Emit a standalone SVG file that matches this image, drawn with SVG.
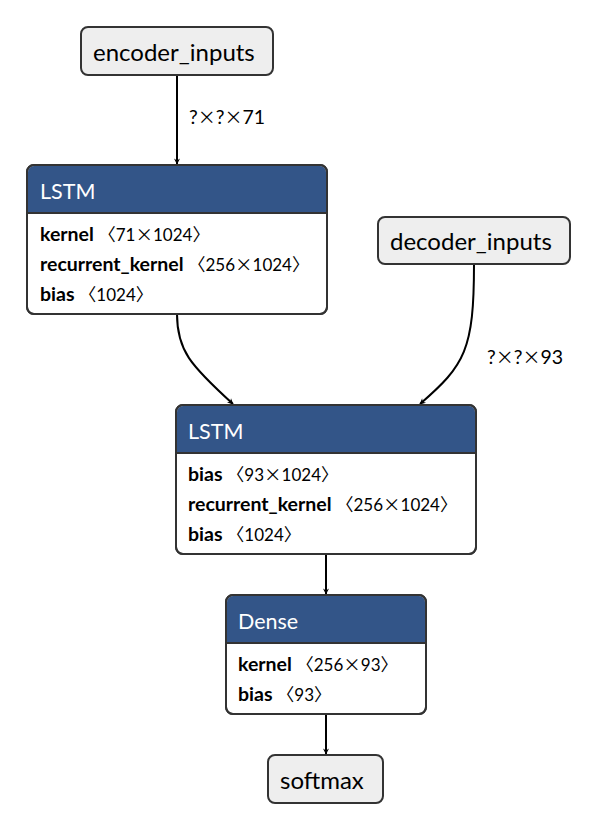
<svg xmlns="http://www.w3.org/2000/svg" width="598" height="832" viewBox="0 0 598 832">
<style>
text{font-family:"Lato","Noto Sans","Noto Sans CJK SC",sans-serif;fill:#000}
.io{fill:#eeeeee;stroke:#333;stroke-width:2}
.box{fill:#fff;stroke:#333;stroke-width:2}
.hdr{fill:#335588}
.name{font-size:24px}
.title{font-size:21.5px;fill:#fff}
.attr{font-size:17px}
.b{font-weight:bold;font-size:19.5px}
.lbl{font-size:19.5px}
.cjk{font-family:"Noto Sans CJK SC",sans-serif;font-weight:normal;font-size:17.5px}
.lbl .cjk{font-size:18px}
.edge{fill:none;stroke:#000;stroke-width:2;marker-end:url(#arr)}
</style>
<defs>
<marker id="arr" viewBox="0 0 10 10" refX="9" refY="5" markerWidth="6" markerHeight="6" markerUnits="userSpaceOnUse" orient="auto" overflow="visible">
<path d="M0,0 L10,5 L0,10 L3,5 Z" fill="#000"/>
</marker>
</defs>
<g id="connectors">
<path class="edge" d="M177,75 L177,164"/>
<path class="edge" d="M177,314 C177,350 190,365 233,404"/>
<path class="edge" d="M474,264 C474,350 465,365 420,404"/>
<path class="edge" d="M326,554 L326,594"/>
<path class="edge" d="M326,714 L326,754"/>
<text class="lbl" x="189" y="124">?<tspan class="cjk">×</tspan>?<tspan class="cjk">×</tspan>71</text>
<text class="lbl" x="487" y="364">?<tspan class="cjk">×</tspan>?<tspan class="cjk">×</tspan>93</text>
</g>
<g id="encoder_inputs">
<rect class="io" x="81" y="27" width="192" height="48" rx="7"/>
<text class="name" x="93" y="61">encoder_inputs</text>
</g>
<g id="decoder_inputs">
<rect class="io" x="378" y="217" width="192" height="47" rx="7"/>
<text class="name" x="390" y="250">decoder_inputs</text>
</g>
<g id="lstm1">
<rect class="box" x="27" y="165" width="300" height="149" rx="7"/>
<path class="hdr" d="M34,166 H320 A6,6 0 0 1 326,172 V213 H28 V172 A6,6 0 0 1 34,166 Z"/>
<line x1="27" y1="213" x2="327" y2="213" stroke="#333" stroke-width="2"/>
<rect x="27" y="165" width="300" height="149" rx="7" fill="none" stroke="#333" stroke-width="2"/>
<text class="title" x="40" y="199">LSTM</text>
<text class="attr" x="40" y="241"><tspan class="b">kernel</tspan> <tspan class="cjk">〈</tspan>71<tspan class="cjk">×</tspan>1024<tspan class="cjk">〉</tspan></text>
<text class="attr" x="40" y="271"><tspan class="b">recurrent_kernel</tspan> <tspan class="cjk">〈</tspan>256<tspan class="cjk">×</tspan>1024<tspan class="cjk">〉</tspan></text>
<text class="attr" x="40" y="301"><tspan class="b">bias</tspan> <tspan class="cjk">〈</tspan>1024<tspan class="cjk">〉</tspan></text>
</g>
<g id="lstm2">
<rect class="box" x="176" y="405" width="300" height="149" rx="7"/>
<path class="hdr" d="M183,406 H469 A6,6 0 0 1 475,412 V453 H177 V412 A6,6 0 0 1 183,406 Z"/>
<line x1="176" y1="453" x2="476" y2="453" stroke="#333" stroke-width="2"/>
<rect x="176" y="405" width="300" height="149" rx="7" fill="none" stroke="#333" stroke-width="2"/>
<text class="title" x="188" y="439">LSTM</text>
<text class="attr" x="188" y="481"><tspan class="b">bias</tspan> <tspan class="cjk">〈</tspan>93<tspan class="cjk">×</tspan>1024<tspan class="cjk">〉</tspan></text>
<text class="attr" x="188" y="511"><tspan class="b">recurrent_kernel</tspan> <tspan class="cjk">〈</tspan>256<tspan class="cjk">×</tspan>1024<tspan class="cjk">〉</tspan></text>
<text class="attr" x="188" y="541"><tspan class="b">bias</tspan> <tspan class="cjk">〈</tspan>1024<tspan class="cjk">〉</tspan></text>
</g>
<g id="dense">
<rect class="box" x="226" y="595" width="200" height="119" rx="7"/>
<path class="hdr" d="M233,596 H419 A6,6 0 0 1 425,602 V643 H227 V602 A6,6 0 0 1 233,596 Z"/>
<line x1="226" y1="643" x2="426" y2="643" stroke="#333" stroke-width="2"/>
<rect x="226" y="595" width="200" height="119" rx="7" fill="none" stroke="#333" stroke-width="2"/>
<text class="title" x="238" y="629">Dense</text>
<text class="attr" x="238" y="671"><tspan class="b">kernel</tspan> <tspan class="cjk">〈</tspan>256<tspan class="cjk">×</tspan>93<tspan class="cjk">〉</tspan></text>
<text class="attr" x="238" y="701"><tspan class="b">bias</tspan> <tspan class="cjk">〈</tspan>93<tspan class="cjk">〉</tspan></text>
</g>
<g id="softmax">
<rect class="io" x="268" y="755" width="115" height="48" rx="7"/>
<text class="name" x="280" y="789">softmax</text>
</g>
</svg>
